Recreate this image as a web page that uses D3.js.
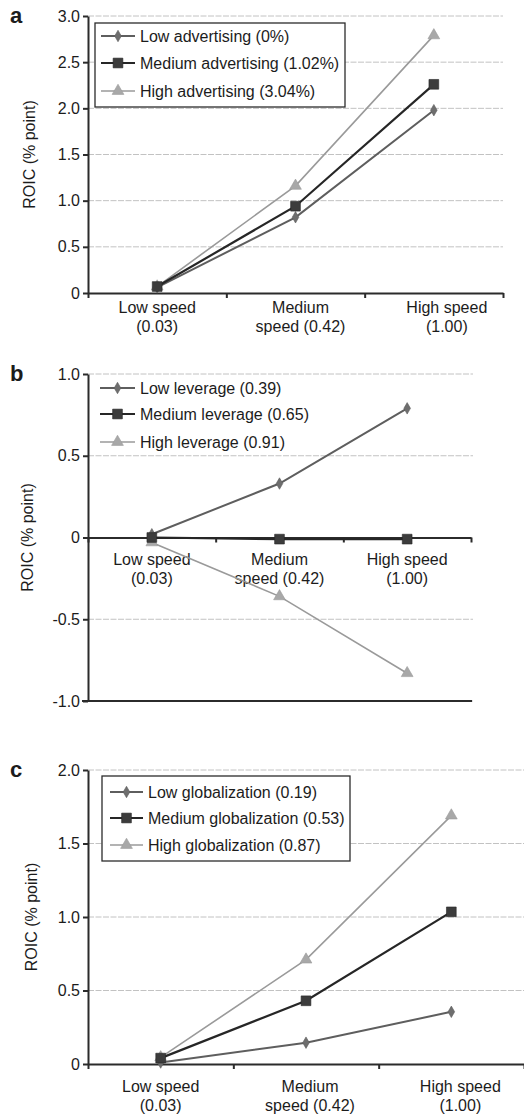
<!DOCTYPE html>
<html>
<head>
<meta charset="UTF-8" />
<title>ROIC by speed</title>
<script src="https://d3js.org/d3.v7.min.js"></script>
<style>
  body { margin: 0; background: #fff; }
  svg text { font-family: 'Liberation Sans', Arial, sans-serif; fill: #1c1c1c; }
  .grid line { stroke: #c2c2c2; stroke-width: 1; stroke-dasharray: 6,1.5; }
  .axis path, .axis line { stroke: #2b2b2b; stroke-width: 2; }
</style>
</head>
<body>
<svg id="chart" width="524" height="1116"></svg>
<script>
// categories shared by all three panels
const speedLabels = [["Low speed", "(0.03)"], ["Medium", "speed (0.42)"], ["High speed", "(1.00)"]];

// panel a: advertising
const advNames = ["Low advertising (0%)", "Medium advertising (1.02%)", "High advertising (3.04%)"];
const advLow = [0.06, 0.82, 1.98];
const advMedium = [0.07, 0.94, 2.26];
const advHigh = [0.07, 1.16, 2.79];
const advTicks = [0, 0.5, 1, 1.5, 2, 2.5, 3];

// panel b: leverage
const levNames = ["Low leverage (0.39)", "Medium leverage (0.65)", "High leverage (0.91)"];
const levLow = [0.02, 0.33, 0.79];
const levMedium = [0.0, -0.01, -0.01];
const levHigh = [-0.03, -0.36, -0.83];
const levTicks = [-1, -0.5, 0, 0.5, 1];

// panel c: globalization
const globNames = ["Low globalization (0.19)", "Medium globalization (0.53)", "High globalization (0.87)"];
const globLow = [0.01, 0.145, 0.355];
const globMedium = [0.04, 0.43, 1.035];
const globHigh = [0.045, 0.71, 1.69];
const globTicks = [0, 0.5, 1, 1.5, 2];

// look of low / medium / high series
const seriesStyle = [
  { stroke: "#5e5e5e", width: 2, fill: "#6e6e6e", shape: d3.symbolDiamond, size: 38 },
  { stroke: "#262626", width: 2.2, fill: "#3c3c3c", shape: d3.symbolSquare, size: 95 },
  { stroke: "#9a9a9a", width: 1.6, fill: "#a8a8a8", shape: d3.symbolTriangle, size: 60 }
];

const svg = d3.select("#chart");
const fmt = d => d === 0 ? "0" : (d < 0 ? "-" : "") + Math.abs(d).toFixed(1);

function drawPanel(p) {
  const g = svg.append("g");
  const y = d3.scaleLinear().domain(p.yDomain).range([p.bottom, p.top]);
  const xEdge = d3.scaleLinear().domain([0, 3]).range([p.left, p.right]);
  const x = d3.scaleBand().domain([0, 1, 2]).range([p.left, p.right]);
  const cx = i => x(i) + x.bandwidth() / 2;

  // gridlines
  g.append("g").attr("class", "grid")
    .selectAll("line").data(p.ticks.filter(t => t !== 0))
    .join("line")
    .attr("x1", p.left).attr("x2", p.gridRight)
    .attr("y1", d => y(d)).attr("y2", d => y(d));

  if (p.baseLine) {
    g.append("line")
      .attr("x1", p.left - 6).attr("x2", p.right + 1)
      .attr("y1", y(p.yDomain[0])).attr("y2", y(p.yDomain[0]))
      .attr("stroke", "#2b2b2b").attr("stroke-width", 2);
  }

  // y axis
  const ya = g.append("g").attr("class", "axis")
    .attr("transform", `translate(${p.left},0)`)
    .call(d3.axisLeft(y).tickValues(p.ticks).tickFormat(fmt).tickSize(5).tickSizeOuter(0).tickPadding(3));
  ya.selectAll("text").attr("font-size", 16).attr("font-family", null);

  // x axis
  g.append("g").attr("class", "axis")
    .attr("transform", `translate(0,${y(0)})`)
    .call(d3.axisBottom(xEdge).tickValues([0, 1, 2, 3]).tickFormat("").tickSize(5).tickSizeOuter(0));

  // category labels
  const lab = g.append("g").selectAll("text").data(speedLabels).join("text")
    .attr("text-anchor", "middle").attr("font-size", 16)
    .attr("transform", (d, i) => `translate(${cx(i) + p.labelNudge[i]},${y(0) + p.labelDy})`);
  lab.selectAll("tspan").data(d => d).join("tspan")
    .attr("x", 0).attr("dy", (d, i) => i === 0 ? 0 : 19).text(d => d);

  // y title
  g.append("text").attr("font-size", 16).attr("text-anchor", "middle")
    .attr("transform", `translate(${p.titleX},${(p.top + p.bottom) / 2}) rotate(-90)`)
    .text("ROIC (% point)");

  // panel letter
  g.append("text").attr("x", 10).attr("y", p.top + 7)
    .attr("font-size", 22).attr("font-weight", "bold").text(p.letter);

  // series
  const line = d3.line().x((d, i) => cx(i)).y(d => y(d));
  const order = [2, 0, 1];
  order.forEach(k => {
    const s = seriesStyle[k];
    g.append("path").attr("d", line(p.series[k]))
      .attr("fill", "none").attr("stroke", s.stroke).attr("stroke-width", s.width);
  });
  order.forEach(k => {
    const s = seriesStyle[k];
    g.selectAll(null).data(p.series[k]).join("path")
      .attr("d", d3.symbol(s.shape, s.size))
      .attr("transform", (d, i) => `translate(${cx(i)},${y(d)})`)
      .attr("fill", s.fill).attr("stroke", s.stroke).attr("stroke-width", 0.6);
  });

  // legend
  const L = p.legend;
  if (L.box) {
    g.append("rect").attr("x", L.box[0]).attr("y", L.box[1])
      .attr("width", L.box[2]).attr("height", L.box[3])
      .attr("fill", "#fff").attr("stroke", "#2b2b2b").attr("stroke-width", 1.3);
  }
  p.names.forEach((name, k) => {
    const s = seriesStyle[k];
    const ry = L.rows[k];
    g.append("line").attr("x1", L.x1).attr("x2", L.x2).attr("y1", ry).attr("y2", ry)
      .attr("stroke", s.stroke).attr("stroke-width", s.width);
    g.append("path").attr("d", d3.symbol(s.shape, s.size))
      .attr("transform", `translate(${(L.x1 + L.x2) / 2},${ry})`)
      .attr("fill", s.fill).attr("stroke", s.stroke).attr("stroke-width", 0.6);
    g.append("text").attr("x", L.x2 + 5).attr("y", ry).attr("dy", "0.36em")
      .attr("font-size", 16).text(name);
  });
}

drawPanel({
  letter: "a", yDomain: [0, 3], ticks: advTicks, top: 16, bottom: 293,
  left: 88, right: 503, gridRight: 503, titleX: 35, labelDy: 20, labelNudge: [0, 5, 13],
  names: advNames, series: [advLow, advMedium, advHigh],
  legend: { box: [95, 23, 250, 84], x1: 101, x2: 135, rows: [36, 63, 91] }
});

drawPanel({
  letter: "b", yDomain: [-1, 1], ticks: levTicks, top: 374, bottom: 701,
  left: 88, right: 471, gridRight: 473, titleX: 33, labelDy: 27, labelNudge: [0, 0, 0],
  baseLine: true,
  names: levNames, series: [levLow, levMedium, levHigh],
  legend: { x1: 100, x2: 135, rows: [388, 414, 442] }
});

drawPanel({
  letter: "c", yDomain: [0, 2], ticks: globTicks, top: 770, bottom: 1064,
  left: 88, right: 524, gridRight: 524, titleX: 37, labelDy: 28, labelNudge: [0, 4, 9],
  names: globNames, series: [globLow, globMedium, globHigh],
  legend: { box: [102, 776, 248, 85], x1: 110, x2: 143, rows: [792, 818, 845] }
});
</script>
</body>
</html>
